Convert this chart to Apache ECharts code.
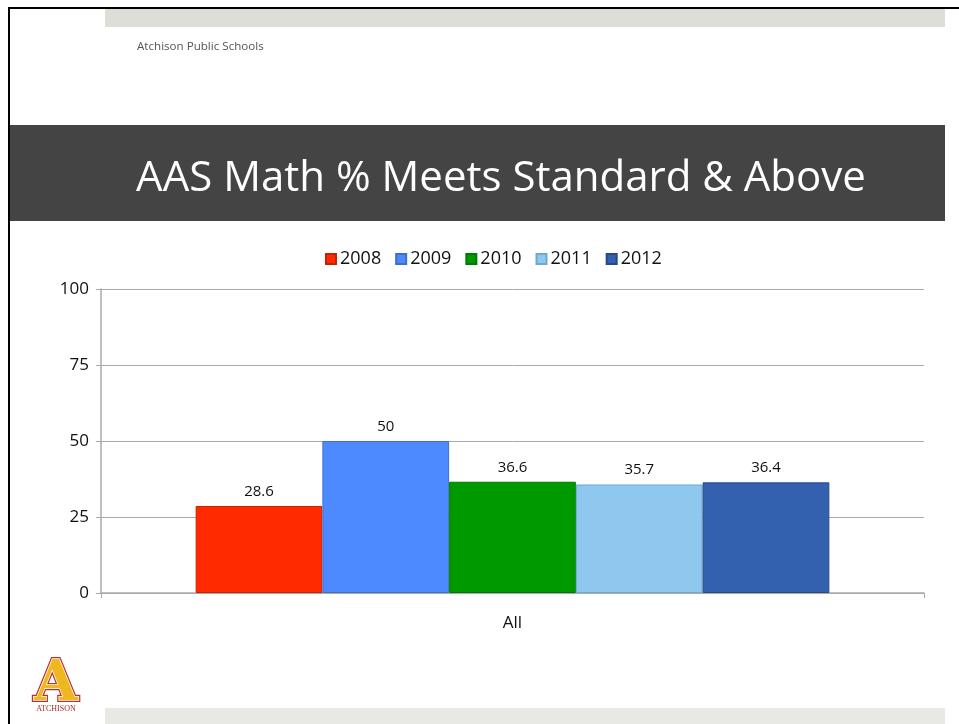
<!DOCTYPE html>
<html>
<head>
<meta charset="utf-8">
<script src="https://cdn.jsdelivr.net/npm/echarts@6/dist/echarts.min.js"></script>
<style>
html,body{margin:0;padding:0;background:#fff;}
#chart{width:959px;height:724px;}
</style>
</head>
<body>
<div id="chart"></div>
<script>
const categories = ['All'];
const seriesNames = ['2008', '2009', '2010', '2011', '2012'];
const seriesValues = [[28.6], [50], [36.6], [35.7], [36.4]];
const seriesColors = ['#FF2A00', '#4D8AFF', '#009A00', '#8FC8EE', '#3460B0'];
const seriesBorders = ['#C92000', '#3C6FD0', '#007A00', '#70A8D0', '#24488A'];
const yTicks = { min: 0, max: 100, interval: 25 };

const chart = echarts.init(document.getElementById('chart'), null, { renderer: 'canvas' });
const font = '"Open Sans", "Noto Sans", sans-serif';

const option = {
  animation: false,
  backgroundColor: '#ffffff',
  textStyle: { fontFamily: font },
  graphic: [
    { type: 'rect', shape: { x: 9, y: 7, width: 950, height: 2 }, style: { fill: '#000' }, z: 10 },
    { type: 'rect', shape: { x: 8, y: 7, width: 2, height: 717 }, style: { fill: '#000' }, z: 10 },
    { type: 'rect', shape: { x: 105, y: 9, width: 840, height: 18 }, style: { fill: '#DEDED8' } },
    { type: 'text', x: 137, y: 47, style: { text: 'Atchison Public Schools', font: '11.6px ' + font, fill: '#555555', textVerticalAlign: 'middle' } },
    { type: 'rect', shape: { x: 10, y: 125, width: 935, height: 96 }, style: { fill: '#444444' } },
    { type: 'text', x: 501, y: 179, style: { text: 'AAS Math % Meets Standard & Above', font: '42px ' + font, fill: '#ffffff', textAlign: 'center', textVerticalAlign: 'middle' } },
    { type: 'rect', shape: { x: 105, y: 708, width: 840, height: 16 }, style: { fill: '#E8E8E4' } },
    { type: 'text', x: 56, y: 685, style: { text: 'A', font: 'bold 56px "DejaVu Serif", "Liberation Serif", serif', fill: '#C0302A', stroke: '#C0302A', lineWidth: 4, textAlign: 'center', textVerticalAlign: 'middle' } },
    { type: 'text', x: 56, y: 685, style: { text: 'A', font: 'bold 56px "DejaVu Serif", "Liberation Serif", serif', fill: '#F0B820', stroke: '#ffffff', lineWidth: 1.5, textAlign: 'center', textVerticalAlign: 'middle' } },
    { type: 'text', x: 56, y: 709, style: { text: 'ATCHISON', font: '8px "Liberation Serif", serif', fill: '#A03028', textAlign: 'center', textVerticalAlign: 'middle' } }
  ],
  legend: {
    top: 245,
    left: 320,
    itemWidth: 10,
    itemHeight: 10,
    itemGap: 14,
    icon: 'rect',
    textStyle: { fontSize: 18, color: '#111', fontFamily: font, padding: [0, 0, 0, -1] },
    data: seriesNames
  },
  grid: { left: 101, right: 35, top: 289, bottom: 131, containLabel: false },
  xAxis: {
    type: 'category',
    data: categories,
    axisLine: { lineStyle: { color: '#AAAAAA', width: 1.5 } },
    axisTick: { show: true, length: 5, lineStyle: { color: '#AAAAAA' } },
    axisLabel: { fontSize: 17, color: '#111', margin: 22, fontFamily: font }
  },
  yAxis: {
    type: 'value',
    min: yTicks.min,
    max: yTicks.max,
    interval: yTicks.interval,
    axisLine: { show: true, lineStyle: { color: '#AAAAAA', width: 1.5 } },
    axisTick: { show: true, length: 5, lineStyle: { color: '#AAAAAA' } },
    axisLabel: { fontSize: 17, color: '#111', margin: 12, fontFamily: font },
    splitLine: { show: true, lineStyle: { color: '#AAAAAA', width: 1 } }
  },
  series: seriesNames.map((name, i) => ({
    name: name,
    type: 'bar',
    data: seriesValues[i],
    barGap: '0%',
    barCategoryGap: '23%',
    itemStyle: { color: seriesColors[i], borderColor: seriesBorders[i], borderWidth: 1 },
    label: { show: true, position: 'top', distance: 7, fontSize: 15, color: '#111', fontFamily: font }
  }))
};
chart.setOption(option);
</script>
</body>
</html>
